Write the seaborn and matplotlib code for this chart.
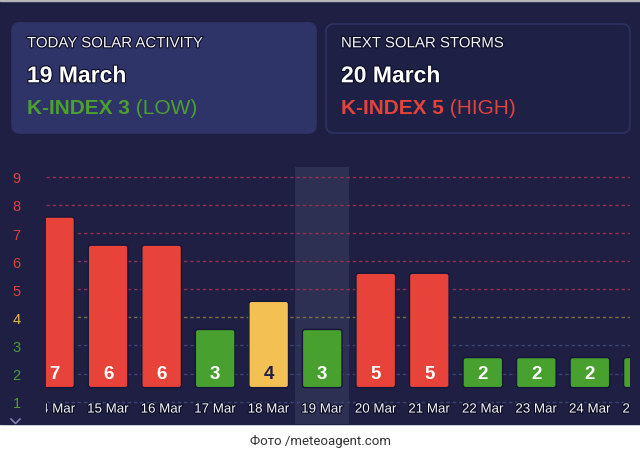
import matplotlib
matplotlib.use('Agg')
import matplotlib.pyplot as plt
import matplotlib.patheffects as pe
from matplotlib.patches import Rectangle, FancyBboxPatch
from matplotlib.lines import Line2D
import seaborn as sns
import pandas as pd

# K-index forecast shown in the chart
dates = ['14 Mar', '15 Mar', '16 Mar', '17 Mar', '18 Mar', '19 Mar',
         '20 Mar', '21 Mar', '22 Mar', '23 Mar', '24 Mar', '25 Mar']
kp = [7, 6, 6, 3, 4, 3, 5, 5, 2, 2, 2, 2]
today = '19 Mar'
y_ticks = [1, 2, 3, 4, 5, 6, 7, 8, 9]

BG = '#1e1f43'
RED = '#e8433a'
GREEN = '#48a02f'
YELLOW = '#f3c153'
WHITE = '#f4f4fa'


def level(v):
    if v >= 5:
        return 'high'
    if v == 4:
        return 'mid'
    return 'low'


palette = {'high': RED, 'mid': YELLOW, 'low': GREEN}
grid_colors = {'high': '#8c3150', 'mid': '#7a6d46', 'low': '#3e426f'}
tick_colors = {'high': '#e0423c', 'mid': '#eab54e', 'low': '#4a9f2f'}

plt.rcParams['font.family'] = ['Liberation Sans', 'DejaVu Sans']

W, H = 640, 456
fig = plt.figure(figsize=(6.4, 4.56), dpi=100)
fig.patch.set_facecolor('white')


def fx(x):
    return x / W


def fy(y):
    return 1 - y / H


# dark page background and thin border on top
fig.add_artist(Rectangle((0, fy(425)), 1, 425 / H, transform=fig.transFigure,
                         color=BG, zorder=-2))
fig.add_artist(Rectangle((0, fy(1.5)), 1, 1.5 / H, transform=fig.transFigure,
                         color='#b5b5b8', zorder=-1))
# little scroll chevron in the bottom-left corner
fig.add_artist(Line2D([fx(11), fx(15.5), fx(20)], [fy(420), fy(424.5), fy(420)],
                      transform=fig.transFigure, color='#7f84b8', lw=1.2, zorder=-1))


def card(x0, y0, x1, y1, fc, ec):
    box = FancyBboxPatch((fx(x0), fy(y1)), (x1 - x0) / W, (y1 - y0) / H,
                         boxstyle='round,pad=0,rounding_size=0.0125',
                         mutation_aspect=W / H, transform=fig.transFigure,
                         fc=fc, ec=ec, lw=1.2, zorder=-1)
    fig.add_artist(box)


card(12, 24, 316, 134, '#2f3468', '#2f3468')
card(326, 25, 630, 134, '#1e2045', '#2e3263')

outline = [pe.withStroke(linewidth=1.6, foreground='#0c0c24')]

# ---- main chart ----
ax = fig.add_axes([fx(45.7), fy(425), (630 - 45.7) / W, (425 - 168) / H])
ax.set_facecolor('none')

df = pd.DataFrame({'date': dates, 'kp': kp})
df['level'] = df['kp'].map(level)
df['height'] = df['kp'] - 0.93

sns.barplot(data=df, x='date', y='height', hue='level', palette=palette,
            dodge=False, legend=False, width=0.74, saturation=1,
            bottom=1.5, edgecolor='#15163a', linewidth=1, ax=ax)

# rounded corners on the bars
for bar in list(ax.patches):
    fb = FancyBboxPatch((bar.get_x(), bar.get_y()), bar.get_width(), bar.get_height(),
                        boxstyle='round,pad=0,rounding_size=0.05',
                        mutation_aspect=53.5 / 28.1,
                        fc=bar.get_facecolor(), ec='#15163a', lw=1, zorder=3)
    bar.remove()
    ax.add_patch(fb)

for v in y_ticks:
    ax.axhline(v, color=grid_colors[level(v)], ls=(0, (2.5, 2)), lw=1.0, zorder=1)

ti = dates.index(today)
ax.axvspan(ti - 0.5, ti + 0.5, color='#2d3053', zorder=0.5, lw=0)

for i, (d, v) in enumerate(zip(dates, kp)):
    ax.text(i, 2.0, str(v), ha='center', va='center', fontsize=13.5, fontweight='bold',
            color=BG if level(v) == 'mid' else 'white', clip_on=True, zorder=4)
    ax.text(i, 0.72, d, ha='center', va='center', fontsize=9.6, color=WHITE,
            clip_on=True, zorder=4, path_effects=outline)

ax.set_xlim(-0.166, 10.75)
ax.set_ylim(0.206, 9.35)
ax.set_xticks([])
ax.set_xlabel('')
ax.set_ylabel('')
ax.set_yticks(y_ticks)
ax.set_yticklabels([str(v) for v in y_ticks], fontsize=10.5)
for lab, v in zip(ax.get_yticklabels(), y_ticks):
    lab.set_color(tick_colors[level(v)])
ax.tick_params(axis='y', length=0, pad=18)
for s in ax.spines.values():
    s.set_visible(False)

# ---- header cards ----
def header(x, title, date, kidx, word, color):
    fig.text(fx(x), fy(48.3), title, fontsize=10.8, color=WHITE, va='baseline',
             path_effects=outline)
    fig.text(fx(x), fy(83.3), date, fontsize=16.5, fontweight='bold', color='white',
             va='baseline', path_effects=outline)
    t = fig.text(fx(x), fy(114.3), kidx, fontsize=15, fontweight='bold', color=color,
                 va='baseline')
    ax.annotate(' ' + word, xy=(1, 0), xycoords=t, va='bottom', ha='left',
                fontsize=15, color=color, annotation_clip=False)


header(27, 'TODAY SOLAR ACTIVITY', '19 March', 'K-INDEX 3', '(LOW)', '#4ba02f')
header(341, 'NEXT SOLAR STORMS', '20 March', 'K-INDEX 5', '(HIGH)', '#e2433b')

fig.text(0.5, fy(441), 'Фото /meteoagent.com', ha='center', va='center',
         fontsize=9.5, color='#333333', family='Roboto')

fig.savefig('out.png', dpi=100)
